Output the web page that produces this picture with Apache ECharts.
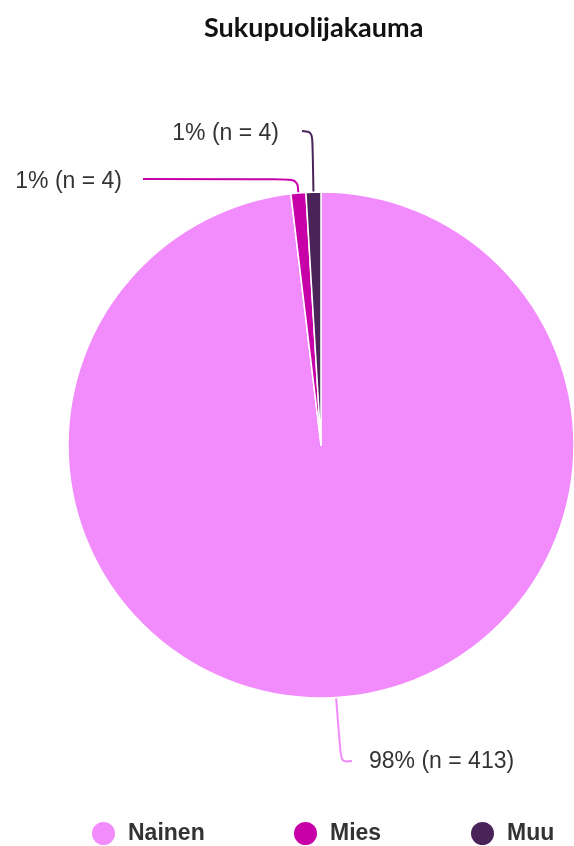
<!DOCTYPE html>
<html>
<head>
<meta charset="utf-8">
<script src="https://cdn.jsdelivr.net/npm/echarts@6/dist/echarts.min.js"></script>
<style>
html, body { margin: 0; padding: 0; background: #fff; }
#chart1 { width: 574px; height: 846px; }
</style>
</head>
<body>
<div id="chart1"></div>
<script>
var categories = ['Nainen', 'Mies', 'Muu'];
var counts = [413, 4, 4];
var percents = [98, 1, 1];
var colors = ['#f28bfb', '#c800a8', '#4a2358'];

// where each label sits: [x, y, align]
var labelSpots = [[369, 762, 'left'], [122, 182, 'right'], [279, 134, 'right']];
var legendLefts = [90, 292, 469];

var chart = echarts.init(document.getElementById('chart1'));

var pieData = categories.map(function (name, i) {
    return { name: name, value: counts[i], pct: percents[i] };
});

// leader line from the slice edge (p0) to its label
function leader(i, p0) {
    var s = labelSpots[i];
    if (i === 0) {
        return [p0, [p0[0] + 5, s[1]], [s[0] - 17, s[1] - 1]];
    }
    if (i === 1) {
        return [p0, [p0[0] - 1, s[1] - 3], [s[0] + 21, s[1] - 3]];
    }
    return [p0, [p0[0] - 1, s[1] - 2], [s[0] + 23, s[1] - 3]];
}

var legends = categories.map(function (name, i) {
    return {
        data: [name],
        left: legendLefts[i],
        top: 820,
        padding: 0,
        icon: 'circle',
        itemWidth: 25,
        itemHeight: 25,
        itemGap: 0,
        selectedMode: false,
        textStyle: { fontFamily: 'Liberation Sans', fontWeight: 'bold', fontSize: 23, color: '#333', padding: [0, 0, 0, 7] }
    };
});

var option = {
    color: colors,
    title: {
        text: 'Sukupuolijakauma',
        left: 199,
        top: 10,
        textStyle: { fontFamily: 'Lato', fontWeight: 'bold', fontSize: 27, color: '#111' }
    },
    legend: legends,
    series: [{
        type: 'pie',
        center: [321, 445],
        radius: [0, 253],
        startAngle: 90,
        clockwise: true,
        data: pieData,
        itemStyle: { borderColor: '#fff', borderWidth: 1.5 },
        label: {
            fontFamily: 'Liberation Sans',
            fontSize: 23,
            color: '#333',
            formatter: function (p) {
                return p.data.pct + '% (n = ' + p.value + ')';
            }
        },
        labelLine: { length: 20, length2: 40, smooth: 0.35, lineStyle: { width: 2 } },
        labelLayout: function (params) {
            var i = params.dataIndex;
            var s = labelSpots[i];
            var p0 = params.labelLinePoints ? params.labelLinePoints[0] : [params.rect.x, params.rect.y];
            return {
                x: s[0],
                y: s[1],
                align: s[2],
                verticalAlign: 'middle',
                labelLinePoints: leader(i, p0)
            };
        },
        emphasis: { disabled: true }
    }]
};

chart.setOption(option);
</script>
</body>
</html>
